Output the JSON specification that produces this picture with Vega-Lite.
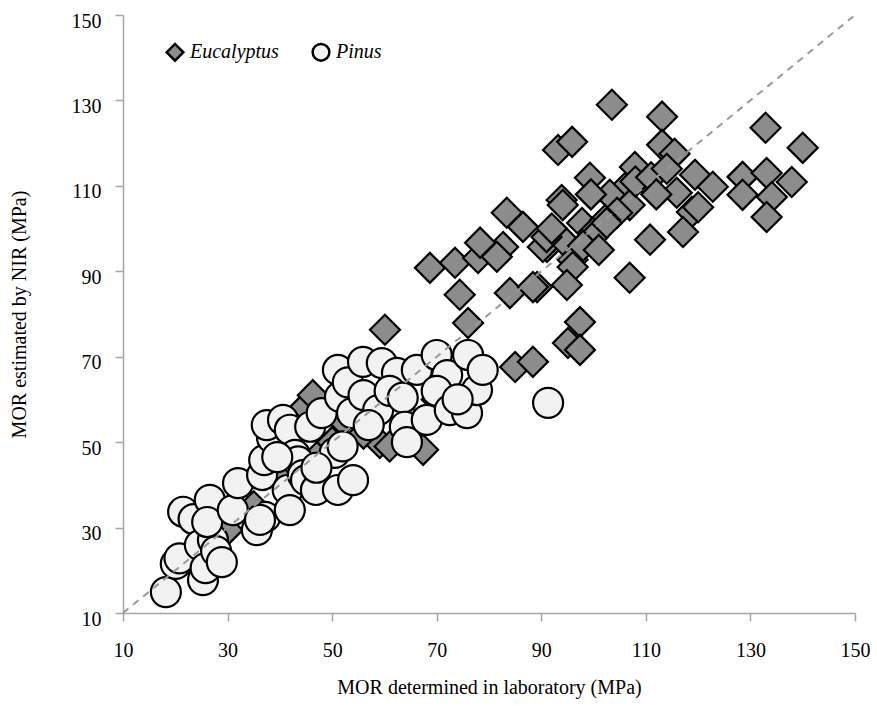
{
  "$schema": "https://vega.github.io/schema/vega-lite/v6.json",
  "width": 732,
  "height": 598,
  "autosize": {"type": "none"},
  "padding": {"left": 123, "top": 15, "right": 22, "bottom": 93},
  "background": "white",
  "config": {
    "font": "Liberation Serif",
    "view": {"stroke": null},
    "axis": {"grid": false, "domainColor": "#a6a6a6", "domainWidth": 1.5, "tickColor": "#a6a6a6", "tickWidth": 1.5, "tickSize": 8, "labelColor": "black", "labelFont": "Liberation Serif", "titleFont": "Liberation Serif", "labelFontSize": 20, "titleFontSize": 20, "titleColor": "black", "titleFontWeight": "normal"},
    "legend": {"labelFont": "Liberation Serif"}
  },
  "datasets": {
    "pts": [
      {"species": "Eucalyptus", "lab": 103.5, "nir": 129},
      {"species": "Eucalyptus", "lab": 113.1, "nir": 126.2},
      {"species": "Eucalyptus", "lab": 132.9, "nir": 123.6},
      {"species": "Eucalyptus", "lab": 140, "nir": 118.9},
      {"species": "Eucalyptus", "lab": 93.2, "nir": 118.4},
      {"species": "Eucalyptus", "lab": 95.9, "nir": 120.3},
      {"species": "Eucalyptus", "lab": 113.1, "nir": 119.6},
      {"species": "Eucalyptus", "lab": 115.5, "nir": 117.5},
      {"species": "Eucalyptus", "lab": 99.3, "nir": 111.9},
      {"species": "Eucalyptus", "lab": 93.9, "nir": 106.7},
      {"species": "Eucalyptus", "lab": 107.9, "nir": 114.4},
      {"species": "Eucalyptus", "lab": 106, "nir": 109.5},
      {"species": "Eucalyptus", "lab": 110.2, "nir": 110.9},
      {"species": "Eucalyptus", "lab": 119.4, "nir": 112.6},
      {"species": "Eucalyptus", "lab": 122.8, "nir": 109.8},
      {"species": "Eucalyptus", "lab": 128.5, "nir": 112.1},
      {"species": "Eucalyptus", "lab": 133.1, "nir": 113},
      {"species": "Eucalyptus", "lab": 137.9, "nir": 110.9},
      {"species": "Eucalyptus", "lab": 128.5, "nir": 107.9},
      {"species": "Eucalyptus", "lab": 134.1, "nir": 107.4},
      {"species": "Eucalyptus", "lab": 133.1, "nir": 102.7},
      {"species": "Eucalyptus", "lab": 115.9, "nir": 108.4},
      {"species": "Eucalyptus", "lab": 118.8, "nir": 103.9},
      {"species": "Eucalyptus", "lab": 117.1, "nir": 99.2},
      {"species": "Eucalyptus", "lab": 110.8, "nir": 97.4},
      {"species": "Eucalyptus", "lab": 106.9, "nir": 88.5},
      {"species": "Eucalyptus", "lab": 103.1, "nir": 107.9},
      {"species": "Eucalyptus", "lab": 106.9, "nir": 105.5},
      {"species": "Eucalyptus", "lab": 104.5, "nir": 103.7},
      {"species": "Eucalyptus", "lab": 97.8, "nir": 101.3},
      {"species": "Eucalyptus", "lab": 102.2, "nir": 102},
      {"species": "Eucalyptus", "lab": 99.9, "nir": 99},
      {"species": "Eucalyptus", "lab": 96, "nir": 92.7},
      {"species": "Eucalyptus", "lab": 91.1, "nir": 95.7},
      {"species": "Eucalyptus", "lab": 83.4, "nir": 103.7},
      {"species": "Eucalyptus", "lab": 68.7, "nir": 90.8},
      {"species": "Eucalyptus", "lab": 73.5, "nir": 92},
      {"species": "Eucalyptus", "lab": 77.9, "nir": 93.1},
      {"species": "Eucalyptus", "lab": 74.4, "nir": 84.5},
      {"species": "Eucalyptus", "lab": 82.7, "nir": 95.7},
      {"species": "Eucalyptus", "lab": 84, "nir": 84.9},
      {"species": "Eucalyptus", "lab": 76, "nir": 77.9},
      {"species": "Eucalyptus", "lab": 86.5, "nir": 100.4},
      {"species": "Eucalyptus", "lab": 90.3, "nir": 95.7},
      {"species": "Eucalyptus", "lab": 89.2, "nir": 86.3},
      {"species": "Eucalyptus", "lab": 94.1, "nir": 97.4},
      {"species": "Eucalyptus", "lab": 96, "nir": 91},
      {"species": "Eucalyptus", "lab": 94.9, "nir": 86.8},
      {"species": "Eucalyptus", "lab": 97.4, "nir": 78.1},
      {"species": "Eucalyptus", "lab": 95.1, "nir": 73.2},
      {"species": "Eucalyptus", "lab": 97.4, "nir": 71.6},
      {"species": "Eucalyptus", "lab": 85, "nir": 67.6},
      {"species": "Eucalyptus", "lab": 88.4, "nir": 68.8},
      {"species": "Eucalyptus", "lab": 94.1, "nir": 105.5},
      {"species": "Eucalyptus", "lab": 99.9, "nir": 98},
      {"species": "Eucalyptus", "lab": 102.5, "nir": 101.3},
      {"species": "Eucalyptus", "lab": 78.3, "nir": 96.7},
      {"species": "Eucalyptus", "lab": 81.5, "nir": 93.4},
      {"species": "Eucalyptus", "lab": 60.1, "nir": 76.3},
      {"species": "Eucalyptus", "lab": 88.4, "nir": 86.3},
      {"species": "Eucalyptus", "lab": 91, "nir": 98},
      {"species": "Eucalyptus", "lab": 92, "nir": 100},
      {"species": "Eucalyptus", "lab": 98, "nir": 96},
      {"species": "Eucalyptus", "lab": 108, "nir": 111},
      {"species": "Eucalyptus", "lab": 111, "nir": 112},
      {"species": "Eucalyptus", "lab": 114, "nir": 114},
      {"species": "Eucalyptus", "lab": 120, "nir": 105},
      {"species": "Eucalyptus", "lab": 112, "nir": 108},
      {"species": "Eucalyptus", "lab": 101, "nir": 95},
      {"species": "Eucalyptus", "lab": 99.5, "nir": 108},
      {"species": "Eucalyptus", "lab": 44.8, "nir": 58.2},
      {"species": "Eucalyptus", "lab": 46.3, "nir": 61},
      {"species": "Eucalyptus", "lab": 47.1, "nir": 46.5},
      {"species": "Eucalyptus", "lab": 30, "nir": 29.4},
      {"species": "Eucalyptus", "lab": 59.1, "nir": 49.8},
      {"species": "Eucalyptus", "lab": 67.4, "nir": 48.2},
      {"species": "Eucalyptus", "lab": 61, "nir": 49},
      {"species": "Eucalyptus", "lab": 56, "nir": 52},
      {"species": "Eucalyptus", "lab": 50, "nir": 50},
      {"species": "Eucalyptus", "lab": 40, "nir": 42},
      {"species": "Eucalyptus", "lab": 35, "nir": 35},
      {"species": "Eucalyptus", "lab": 25, "nir": 27},
      {"species": "Eucalyptus", "lab": 65, "nir": 55},
      {"species": "Eucalyptus", "lab": 70, "nir": 60},
      {"species": "Eucalyptus", "lab": 55, "nir": 60},
      {"species": "Eucalyptus", "lab": 52, "nir": 55},
      {"species": "Pinus", "lab": 18.2, "nir": 14.9},
      {"species": "Pinus", "lab": 20.1, "nir": 21.5},
      {"species": "Pinus", "lab": 20.8, "nir": 22.8},
      {"species": "Pinus", "lab": 21.5, "nir": 33.7},
      {"species": "Pinus", "lab": 23.5, "nir": 32},
      {"species": "Pinus", "lab": 24.7, "nir": 25.9},
      {"species": "Pinus", "lab": 25.3, "nir": 17.7},
      {"species": "Pinus", "lab": 25.8, "nir": 20.5},
      {"species": "Pinus", "lab": 26.6, "nir": 36.5},
      {"species": "Pinus", "lab": 27.2, "nir": 27.1},
      {"species": "Pinus", "lab": 27.8, "nir": 24.5},
      {"species": "Pinus", "lab": 28.9, "nir": 21.9},
      {"species": "Pinus", "lab": 26.1, "nir": 31.3},
      {"species": "Pinus", "lab": 31, "nir": 34.1},
      {"species": "Pinus", "lab": 32, "nir": 40.4},
      {"species": "Pinus", "lab": 35.6, "nir": 29.4},
      {"species": "Pinus", "lab": 37.2, "nir": 32.5},
      {"species": "Pinus", "lab": 36.2, "nir": 31.8},
      {"species": "Pinus", "lab": 36.6, "nir": 42.3},
      {"species": "Pinus", "lab": 37, "nir": 45.8},
      {"species": "Pinus", "lab": 38.5, "nir": 51},
      {"species": "Pinus", "lab": 37.5, "nir": 54},
      {"species": "Pinus", "lab": 40.6, "nir": 55.2},
      {"species": "Pinus", "lab": 41.9, "nir": 52.9},
      {"species": "Pinus", "lab": 42.9, "nir": 47},
      {"species": "Pinus", "lab": 41.5, "nir": 38.8},
      {"species": "Pinus", "lab": 41.9, "nir": 34.1},
      {"species": "Pinus", "lab": 43.5, "nir": 45.5},
      {"species": "Pinus", "lab": 44.4, "nir": 42.3},
      {"species": "Pinus", "lab": 45, "nir": 41.1},
      {"species": "Pinus", "lab": 46.9, "nir": 38.8},
      {"species": "Pinus", "lab": 45.8, "nir": 53.6},
      {"species": "Pinus", "lab": 48, "nir": 56.8},
      {"species": "Pinus", "lab": 50.5, "nir": 47.5},
      {"species": "Pinus", "lab": 51.1, "nir": 38.8},
      {"species": "Pinus", "lab": 54, "nir": 41.1},
      {"species": "Pinus", "lab": 52, "nir": 49},
      {"species": "Pinus", "lab": 51.5, "nir": 60.6},
      {"species": "Pinus", "lab": 51.1, "nir": 66.9},
      {"species": "Pinus", "lab": 53, "nir": 64},
      {"species": "Pinus", "lab": 55.9, "nir": 68.8},
      {"species": "Pinus", "lab": 53.8, "nir": 56.8},
      {"species": "Pinus", "lab": 56, "nir": 61},
      {"species": "Pinus", "lab": 58.8, "nir": 57.5},
      {"species": "Pinus", "lab": 59.5, "nir": 68.5},
      {"species": "Pinus", "lab": 62.4, "nir": 66.2},
      {"species": "Pinus", "lab": 61, "nir": 62},
      {"species": "Pinus", "lab": 63.5, "nir": 60.4},
      {"species": "Pinus", "lab": 63.9, "nir": 53.6},
      {"species": "Pinus", "lab": 64.3, "nir": 50},
      {"species": "Pinus", "lab": 66.2, "nir": 66.9},
      {"species": "Pinus", "lab": 68.1, "nir": 55.2},
      {"species": "Pinus", "lab": 70, "nir": 70.4},
      {"species": "Pinus", "lab": 72, "nir": 65.7},
      {"species": "Pinus", "lab": 70, "nir": 62},
      {"species": "Pinus", "lab": 72.5, "nir": 57.5},
      {"species": "Pinus", "lab": 75.8, "nir": 56.8},
      {"species": "Pinus", "lab": 76, "nir": 70.4},
      {"species": "Pinus", "lab": 77.7, "nir": 62.2},
      {"species": "Pinus", "lab": 78.8, "nir": 66.9},
      {"species": "Pinus", "lab": 74, "nir": 60},
      {"species": "Pinus", "lab": 91.3, "nir": 59.2},
      {"species": "Pinus", "lab": 39.5, "nir": 46.5},
      {"species": "Pinus", "lab": 47, "nir": 44},
      {"species": "Pinus", "lab": 57, "nir": 54}
    ],
    "oneToOne": [
      {"lab": 10, "nir": 10},
      {"lab": 150, "nir": 150}
    ]
  },
  "layer": [
    {
      "data": {"name": "pts"},
      "mark": {"type": "point", "filled": true, "stroke": "black", "strokeWidth": 2.2, "opacity": 1, "size": 900},
      "encoding": {
        "x": {"field": "lab", "type": "quantitative", "scale": {"domain": [10, 150], "nice": false, "zero": false},
          "axis": {"title": "MOR determined in laboratory (MPa)", "values": [10, 30, 50, 70, 90, 110, 130, 150], "labelPadding": 19, "titlePadding": 17, "labelFlush": false}},
        "y": {"field": "nir", "type": "quantitative", "scale": {"domain": [10, 150], "nice": false, "zero": false},
          "axis": {"title": "MOR estimated by NIR (MPa)", "values": [10, 30, 50, 70, 90, 110, 130, 150], "labelPadding": 14, "labelOffset": 6, "titlePadding": 42, "labelFlush": false}},
        "fill": {"field": "species", "type": "nominal", "scale": {"domain": ["Eucalyptus", "Pinus"], "range": ["#8c8c8c", "#f2f2f2"]},
          "legend": {"title": null, "orient": "none", "legendX": 42, "legendY": 27, "direction": "horizontal", "labelFont": "Liberation Serif", "labelFontSize": 20, "labelFontStyle": "italic", "labelColor": "black", "symbolSize": 280, "symbolStrokeColor": "black", "symbolStrokeWidth": 2.5, "columnPadding": 28, "labelOffset": 5}},
        "shape": {"field": "species", "type": "nominal", "scale": {"domain": ["Eucalyptus", "Pinus"], "range": ["diamond", "circle"]}}
      }
    },
    {
      "data": {"name": "oneToOne"},
      "mark": {"type": "line", "color": "#999999", "strokeWidth": 2, "strokeDash": [7, 6]},
      "encoding": {
        "x": {"field": "lab", "type": "quantitative"},
        "y": {"field": "nir", "type": "quantitative"}
      }
    }
  ]
}
